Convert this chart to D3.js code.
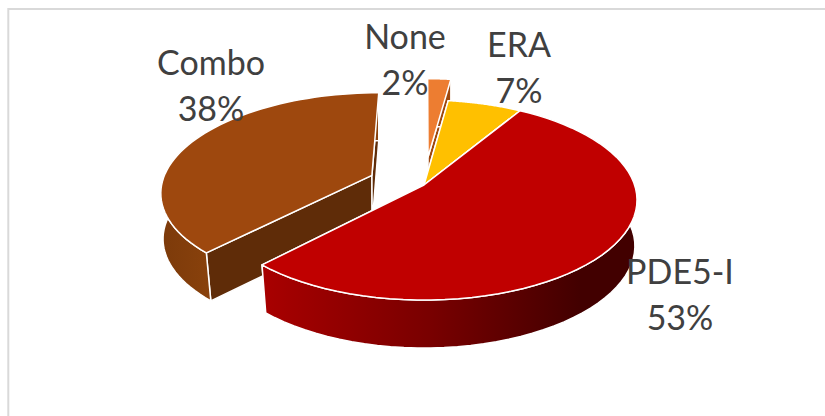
<!DOCTYPE html>
<html><head><meta charset="utf-8">
<script src="https://cdn.jsdelivr.net/npm/d3@7/dist/d3.min.js"></script>
<style>html,body{margin:0;padding:0;background:#fff}svg{display:block}text{font-family:Lato,"Open Sans",sans-serif;fill:#404040}</style>
</head><body><svg id="c" width="825" height="416"></svg>
<script>
const categories = ["PDE5-I","Combo","None","ERA"];
const values = [53.4,38,2.1,6.5];
const explode = [0,0.27,0.3,0];
const topColors = ["#c00000","#9e480e","#ed7d31","#ffc000"];
const cutColors = ["#600000","#5f2c08","#9e480e","#997300"];
const labelPos = [[680,284],[211,75],[405,49],[519,57]];

const svg = d3.select("#c");
svg.append("rect").attr("x",8.3).attr("y",9).attr("width",830).attr("height",430)
  .attr("fill","#fff").attr("stroke","#d9d9d9").attr("stroke-width",2);

const defs = svg.append("defs");
const grad = (id,stops,x1,x2)=>{
  const g=defs.append("linearGradient").attr("id",id).attr("gradientUnits","userSpaceOnUse")
    .attr("x1",x1).attr("x2",x2).attr("y1",0).attr("y2",0);
  stops.forEach(s=>g.append("stop").attr("offset",s[0]).attr("stop-color",s[1]));
};
grad("wall0",[[0,"#a80000"],[0.45,"#780000"],[0.85,"#420000"],[1,"#420000"]],265,637);
grad("wall1",[[0,"#7c3a0a"],[1,"#8a420c"]],160,215);
grad("wall2",[[0,"#9e480e"],[1,"#9e480e"]],420,455);
grad("wall3",[[0,"#b38600"],[1,"#b38600"]],440,520);

const startDeg = 31;
const pie = d3.pie().sort(null).value(d=>d)
  .startAngle(startDeg*Math.PI/180).endAngle((startDeg+360)*Math.PI/180);
const arcs = pie(values);

const cx=424,cy=185,R=210.6,k=0.15,a=70,depth=48;
const proj=(x,y)=>{const d=1-k*y;return [cx+R*x/d,(a*y+cy)/d];};
const lower=p=>{
  const f=1-0.03*Math.max(0,(p[1]-150)/150);
  return [cx+(p[0]-cx)*f,p[1]+depth];
};
const line=d3.line();
const rim=(arc,off)=>d3.range(0,61).map(i=>{
  const t=arc.startAngle+(arc.endAngle-arc.startAngle)*i/60;
  return proj(Math.sin(t)+off[0],-Math.cos(t)+off[1]);
});

const order=[2,3,1,0];
order.forEach(i=>{
  const arc=arcs[i], mid=(arc.startAngle+arc.endAngle)/2;
  const off=[Math.sin(mid)*explode[i],-Math.cos(mid)*explode[i]];
  const top=rim(arc,off), apex=proj(off[0],off[1]);
  const g=svg.append("g").attr("class","slice").attr("data-name",categories[i]);
  const face=(pts,fill)=>g.append("path").attr("d",line(pts)+"Z").attr("fill",fill)
    .attr("stroke","#fff").attr("stroke-width",1.5).attr("stroke-linejoin","round");
  const s=top[0], e=top[top.length-1];
  face([apex,s,lower(s),lower(apex)],cutColors[i]);
  face([apex,e,lower(e),lower(apex)],cutColors[i]);
  face(top.concat(top.map(lower).reverse()),`url(#wall${i})`);
  face([apex].concat(top),topColors[i]);
});

categories.forEach((c,i)=>{
  const t=svg.append("text").attr("text-anchor","middle").attr("font-size",34);
  t.append("tspan").attr("x",labelPos[i][0]).attr("y",labelPos[i][1]).text(c);
  t.append("tspan").attr("x",labelPos[i][0]).attr("y",labelPos[i][1]+46).text(d3.format(".0f")(values[i])+"%");
});
</script></body></html>
